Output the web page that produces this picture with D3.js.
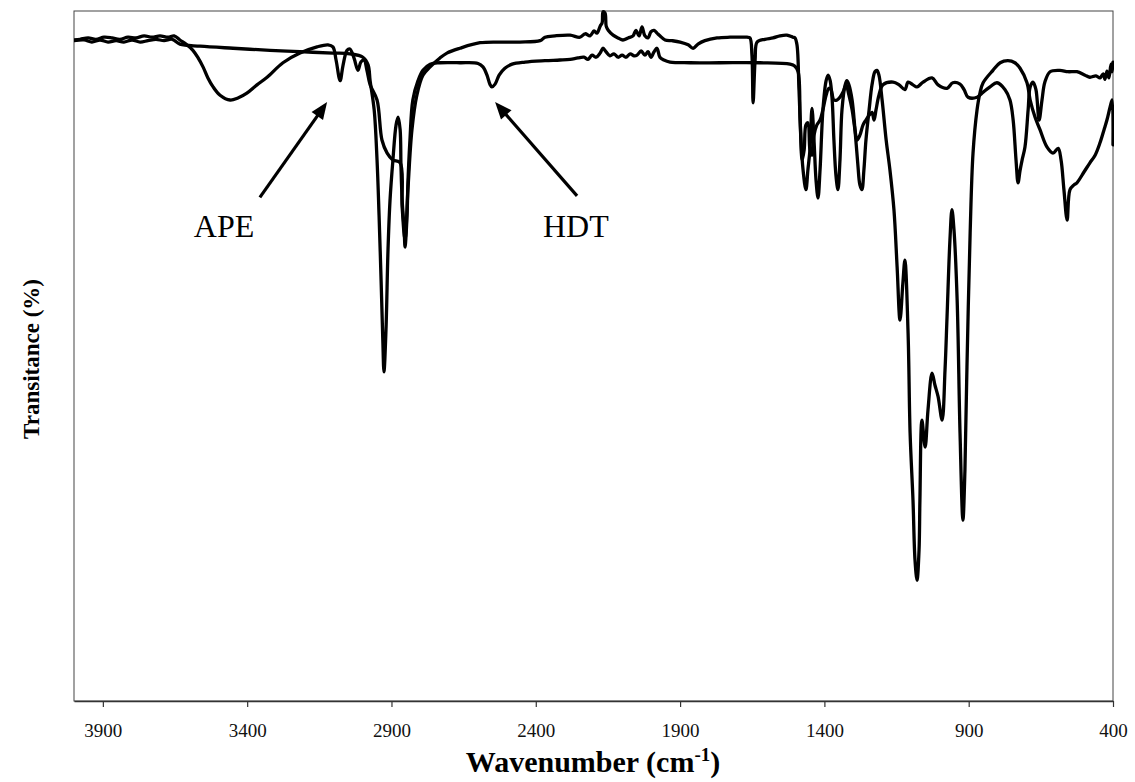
<!DOCTYPE html>
<html>
<head>
<meta charset="utf-8">
<script src="https://cdn.jsdelivr.net/npm/d3@7"></script>
<style>
  html, body { margin: 0; padding: 0; background: #fff; }
  svg { display: block; }
</style>
</head>
<body>
<svg id="chart" width="1135" height="782"></svg>
<script>
// FTIR spectra: [wavenumber (cm-1), transmittance (%)]
const apeSpectrum = [
  [4000,95.8],[3979,95.9],[3951,96.1],[3924,95.9],[3896,96.2],[3868,96.1],[3841,95.9],[3813,96.2],[3785,96.1],
  [3757,96.4],[3730,96.2],[3702,96.4],[3674,96.2],[3653,96.4],[3633,95.8],[3609,95.1],[3588,94.3],[3570,93.2],
  [3553,91.9],[3536,90.3],[3518,89.0],[3494,87.8],[3459,87.1],[3432,87.4],[3401,88.1],[3366,89.3],[3331,90.4],
  [3276,92.5],[3217,93.9],[3158,94.8],[3120,95.1],[3103,94.8],[3092,92.9],[3078,89.9],[3068,92.1],[3054,94.3],
  [3044,94.5],[3030,93.2],[3016,91.4],[3006,92.6],[2995,92.9],[2985,91.4],[2974,89.3],[2950,87.1],[2933,81.3],
  [2915,79.4],[2895,78.4],[2870,78.0],[2863,71.6],[2853,66.8],[2843,74.1],[2829,82.8],[2812,87.8],[2791,90.7],
  [2766,91.9],[2732,93.2],[2708,93.9],[2663,94.6],[2593,95.4],[2524,95.5],[2455,95.5],[2385,95.7],[2368,96.2],
  [2333,96.4],[2281,96.5],[2247,96.2],[2229,96.7],[2212,96.4],[2198,97.1],[2188,96.8],[2177,97.8],[2170,98.3],
  [2167,99.9],[2160,99.7],[2156,97.8],[2149,97.2],[2132,96.5],[2115,96.1],[2098,95.8],[2080,96.1],[2063,96.4],
  [2053,97.2],[2042,96.4],[2032,97.7],[2022,96.4],[2011,96.1],[2001,97.0],[1990,97.2],[1980,96.8],[1970,96.4],
  [1952,95.8],[1928,95.7],[1900,95.5],[1872,95.1],[1855,94.6],[1838,95.2],[1814,95.7],[1772,96.1],[1727,96.2],
  [1668,96.2],[1658,96.1],[1651,93.6],[1647,86.7],[1640,92.9],[1633,95.5],[1606,95.9],[1578,96.1],[1554,96.4],
  [1530,96.5],[1509,96.2],[1502,96.1],[1495,95.1],[1488,88.6],[1481,81.3],[1474,77.0],[1464,74.1],[1457,77.0],
  [1450,79.9],[1443,85.9],[1436,81.3],[1429,75.5],[1422,72.9],[1415,77.0],[1405,85.7],[1394,89.9],[1387,90.7],
  [1380,89.9],[1373,87.1],[1367,81.3],[1360,76.2],[1353,74.1],[1346,78.4],[1339,85.7],[1328,89.3],[1322,89.9],
  [1315,89.3],[1304,87.1],[1294,82.8],[1284,77.7],[1277,74.8],[1270,74.1],[1263,77.0],[1256,81.3],[1245,85.7],
  [1235,89.3],[1225,91.2],[1218,91.4],[1211,90.7],[1200,87.1],[1186,81.3],[1173,77.0],[1159,71.2],[1148,62.9],
  [1138,55.2],[1128,60.6],[1121,63.9],[1110,53.3],[1103,38.8],[1093,29.1],[1086,20.4],[1079,17.5],[1072,21.9],
  [1069,29.1],[1062,40.7],[1051,36.8],[1041,42.2],[1027,47.5],[1017,45.8],[1006,44.1],[992,40.7],[982,48.0],
  [975,55.7],[965,66.8],[958,71.2],[951,68.3],[940,58.1],[930,38.8],[920,26.2],[913,33.5],[906,48.4],[895,67.8],
  [885,79.4],[871,85.7],[861,88.1],[850,89.6],[816,91.4],[791,92.5],[764,92.8],[740,92.5],[722,91.7],[698,89.6],
  [687,87.1],[670,84.6],[653,82.8],[629,80.3],[608,79.4],[590,80.1],[580,78.4],[570,74.1],[559,69.7],[549,74.1],
  [535,74.8],[525,75.1],[500,76.7],[480,78.0],[462,79.1],[445,80.9],[431,82.8],[421,84.2],[410,86.1],[403,87.1],
  [400,80.6]
];

const hdtSpectrum = [
  [4000,95.7],[3965,95.8],[3938,95.5],[3910,95.8],[3882,95.5],[3854,95.7],[3827,95.5],[3799,95.8],[3771,95.5],
  [3744,95.7],[3716,95.9],[3688,95.7],[3660,95.9],[3633,95.2],[3563,94.9],[3449,94.6],[3321,94.3],[3217,94.1],
  [3103,93.9],[3044,93.8],[2999,93.3],[2981,92.2],[2974,89.9],[2960,85.7],[2950,78.4],[2943,70.4],[2936,61.0],
  [2930,52.3],[2926,47.7],[2919,53.8],[2912,65.4],[2905,72.6],[2895,78.4],[2884,83.5],[2877,84.6],[2870,82.8],
  [2867,77.4],[2863,72.6],[2856,68.3],[2853,65.8],[2846,70.4],[2843,75.1],[2836,81.3],[2826,87.1],[2808,89.9],
  [2791,91.4],[2766,92.3],[2732,92.5],[2663,92.5],[2600,92.4],[2583,91.9],[2569,90.7],[2559,89.4],[2552,89.0],
  [2541,89.4],[2527,90.7],[2507,91.7],[2482,92.3],[2437,92.6],[2368,92.8],[2316,92.9],[2281,93.0],[2254,93.2],
  [2233,93.3],[2219,93.0],[2205,93.6],[2191,93.3],[2177,93.9],[2167,94.6],[2157,94.1],[2143,93.5],[2129,93.8],
  [2115,93.3],[2101,93.6],[2087,93.3],[2073,93.8],[2059,93.5],[2049,93.6],[2035,94.2],[2022,93.6],[2011,94.1],
  [2001,93.3],[1990,94.1],[1980,94.6],[1970,93.3],[1956,92.9],[1935,92.6],[1865,92.5],[1762,92.5],[1623,92.5],
  [1519,92.3],[1502,92.0],[1491,91.2],[1484,84.2],[1477,78.4],[1470,79.9],[1464,83.5],[1457,83.8],[1450,79.9],
  [1443,79.1],[1436,82.0],[1426,83.5],[1415,84.2],[1405,85.7],[1394,87.8],[1384,88.8],[1377,88.6],[1367,87.1],
  [1356,87.1],[1346,87.5],[1335,88.3],[1325,89.3],[1315,87.8],[1304,85.7],[1294,82.8],[1287,81.3],[1277,82.0],
  [1266,83.5],[1256,84.2],[1245,84.9],[1235,85.3],[1228,84.2],[1221,85.7],[1211,87.8],[1197,89.3],[1162,89.7],
  [1141,89.3],[1121,88.6],[1110,89.7],[1093,89.3],[1079,89.0],[1058,89.7],[1027,90.3],[1006,89.3],[975,88.8],
  [955,89.6],[930,89.4],[916,88.6],[902,87.5],[871,87.5],[854,88.1],[826,89.0],[802,89.6],[774,88.6],[757,87.1],
  [746,84.2],[736,78.4],[729,75.1],[722,76.9],[715,78.4],[705,80.3],[694,85.7],[687,89.0],[677,89.7],[667,88.6],
  [656,84.2],[646,87.1],[636,89.7],[618,91.2],[584,91.4],[556,91.2],[525,91.2],[497,90.7],[480,90.4],[459,90.6],
  [445,90.3],[434,90.9],[428,90.1],[421,91.3],[414,90.3],[407,92.3],[403,91.2],[400,92.6]
];

const wavenumberTicks = [3900, 3400, 2900, 2400, 1900, 1400, 900, 400];

// peak annotations: label, label anchor, arrow tail and arrow tip in [cm-1, %]
const annotationLabels = ["APE", "HDT"];
const annotationAnchors = [[3480, 67.2], [2261, 67.2]];
const arrowTails = [[3356, 73.0], [2257, 73.2]];
const arrowTips = [[3123, 86.8], [2541, 86.8]];

const svg = d3.select("#chart");
const plot = { left: 74, right: 1113, top: 11, bottom: 701 };

const x = d3.scaleLinear().domain([4000, 400]).range([plot.left, plot.right]);
const y = d3.scaleLinear().domain([0, 100]).range([plot.bottom, plot.top]);

const serif = "'Liberation Serif', 'Times New Roman', serif";

// plot frame
svg.append("rect")
  .attr("x", plot.left).attr("y", plot.top)
  .attr("width", plot.right - plot.left).attr("height", plot.bottom - plot.top)
  .attr("fill", "none").attr("stroke", "#444").attr("stroke-width", 1);

// bottom axis
const xAxis = d3.axisBottom(x)
  .tickValues(wavenumberTicks)
  .tickFormat(d3.format("d"))
  .tickSizeInner(6).tickSizeOuter(0).tickPadding(17);

const gx = svg.append("g")
  .attr("transform", `translate(0,${plot.bottom})`)
  .call(xAxis);
gx.select(".domain").attr("stroke", "#333").attr("stroke-width", 1.6);
gx.selectAll(".tick line").attr("stroke", "#333").attr("stroke-width", 1.2);
gx.selectAll(".tick text")
  .attr("font-family", serif).attr("font-size", 19).attr("fill", "#111");

// spectra
const line = d3.line()
  .x(d => x(d[0]))
  .y(d => y(d[1]))
  .curve(d3.curveCatmullRom.alpha(0.5));

svg.append("clipPath").attr("id", "plot-clip")
  .append("rect")
  .attr("x", plot.left).attr("y", plot.top - 2)
  .attr("width", plot.right - plot.left + 1).attr("height", plot.bottom - plot.top + 2);

svg.append("g").attr("clip-path", "url(#plot-clip)")
  .selectAll("path.spectrum")
  .data([apeSpectrum, hdtSpectrum])
  .join("path")
  .attr("class", "spectrum")
  .attr("d", line)
  .attr("fill", "none")
  .attr("stroke", "#000")
  .attr("stroke-width", 3.3)
  .attr("stroke-linejoin", "round")
  .attr("stroke-linecap", "round");

// annotation arrows and labels
const headLen = 17, headHalf = 7;
annotationLabels.forEach((label, i) => {
  const tx = x(arrowTails[i][0]), ty = y(arrowTails[i][1]);
  const px = x(arrowTips[i][0]), py = y(arrowTips[i][1]);
  const dx = px - tx, dy = py - ty;
  const len = Math.hypot(dx, dy);
  const ux = dx / len, uy = dy / len;
  const bx = px - ux * headLen, by = py - uy * headLen;
  svg.append("line")
    .attr("x1", tx).attr("y1", ty)
    .attr("x2", bx + ux * 2).attr("y2", by + uy * 2)
    .attr("stroke", "#000").attr("stroke-width", 3.2);
  svg.append("path")
    .attr("d", `M${px},${py}L${bx - uy * headHalf},${by + ux * headHalf}L${bx + uy * headHalf},${by - ux * headHalf}Z`)
    .attr("fill", "#000");
  svg.append("text")
    .attr("x", x(annotationAnchors[i][0]))
    .attr("y", y(annotationAnchors[i][1]))
    .attr("text-anchor", "middle")
    .attr("font-family", serif)
    .attr("font-size", 32)
    .attr("fill", "#000")
    .text(label);
});

// axis titles
const xTitle = svg.append("text")
  .attr("x", 593).attr("y", 772)
  .attr("text-anchor", "middle")
  .attr("font-family", serif).attr("font-weight", "bold")
  .attr("font-size", 30).attr("fill", "#000");
xTitle.append("tspan").text("Wavenumber (cm");
xTitle.append("tspan").attr("dy", -11).attr("font-size", 19).text("-1");
xTitle.append("tspan").attr("dy", 11).text(")");

svg.append("text")
  .attr("transform", "translate(39,359) rotate(-90)")
  .attr("text-anchor", "middle")
  .attr("font-family", serif).attr("font-weight", "bold")
  .attr("font-size", 23).attr("fill", "#000")
  .text("Transitance (%)");
</script>
</body>
</html>
